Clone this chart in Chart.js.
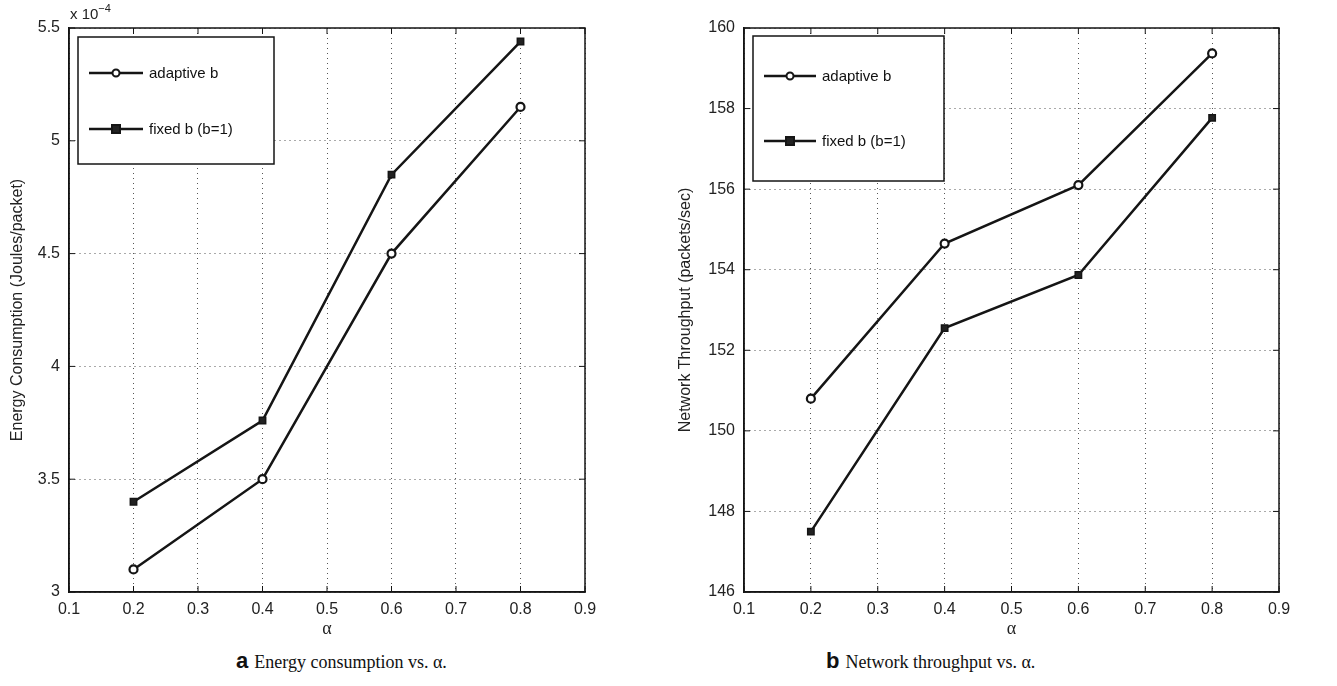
<!DOCTYPE html>
<html>
<head>
<meta charset="utf-8">
<script src="https://cdn.jsdelivr.net/npm/chart.js@4.4.0/dist/chart.umd.min.js"></script>
<style>
  body { margin: 0; background: #fff; width: 1337px; height: 686px; position: relative; overflow: hidden; }
  canvas { position: absolute; top: 0; }
  #c1 { left: 0; }
  #c2 { left: 668px; }
  .exp { position: absolute; left: 70px; top: 3px; font: 15px "Liberation Sans", Arial, sans-serif; color: #222; }
  .exp sup { font-size: 11px; position: relative; top: -1px; }
  .cap { position: absolute; top: 648px; font: 18px "Liberation Serif", "Times New Roman", serif; color: #111; white-space: nowrap; }
  .cap b { font: bold 22px "Liberation Sans", Arial, sans-serif; margin-right: 6px; }
</style>
</head>
<body>
<canvas id="c1" width="668" height="640"></canvas>
<canvas id="c2" width="669" height="640"></canvas>
<div class="exp">x 10<sup>−4</sup></div>
<div class="cap" style="left:236px"><b>a</b>Energy consumption vs. α.</div>
<div class="cap" style="left:826px"><b>b</b>Network throughput vs. α.</div>
<script>
// alpha values shared by both plots
var alphas = [0.2, 0.4, 0.6, 0.8];
var xTicks = [0.1, 0.2, 0.3, 0.4, 0.5, 0.6, 0.7, 0.8, 0.9];

// (a) energy consumption, in units of 1e-4 Joules/packet
var energyAdaptive = [3.10, 3.50, 4.50, 5.15];
var energyFixed = [3.40, 3.76, 4.85, 5.44];
var energyTicks = [3, 3.5, 4, 4.5, 5, 5.5];

// (b) network throughput, packets/sec
var thrAdaptive = [150.8, 154.65, 156.1, 159.37];
var thrFixed = [147.5, 152.55, 153.87, 157.77];
var thrTicks = [146, 148, 150, 152, 154, 156, 158, 160];

var seriesNames = ["adaptive b", "fixed b (b=1)"];

var tickFont = { family: "'Liberation Sans', Arial, sans-serif", size: 16 };
var ink = '#151515';

function pts(xs, ys) {
    return xs.map(function (x, i) { return { x: x, y: ys[i] }; });
}

function fmt(v) { return String(Number(v.toFixed(3))); }

// box, inward ticks and boxed legend, drawn the matlab way
var matlabFrame = {
    id: 'matlabFrame',
    afterDatasetsDraw: function (chart, args, opts) {
        var ctx = chart.ctx, a = chart.chartArea;
        var xs = chart.scales.x, ys = chart.scales.y;
        ctx.save();
        ctx.strokeStyle = ink;
        ctx.lineWidth = 1.5;
        ctx.strokeRect(a.left, a.top, a.right - a.left, a.bottom - a.top);
        ctx.lineWidth = 1;
        xs.ticks.forEach(function (t) {
            var px = xs.getPixelForValue(t.value);
            ctx.beginPath();
            ctx.moveTo(px, a.bottom); ctx.lineTo(px, a.bottom - 6);
            ctx.moveTo(px, a.top); ctx.lineTo(px, a.top + 6);
            ctx.stroke();
        });
        ys.ticks.forEach(function (t) {
            var py = ys.getPixelForValue(t.value);
            ctx.beginPath();
            ctx.moveTo(a.left, py); ctx.lineTo(a.left + 6, py);
            ctx.moveTo(a.right, py); ctx.lineTo(a.right - 6, py);
            ctx.stroke();
        });

        // legend
        var bx = a.left + opts.dx, by = a.top + opts.dy;
        ctx.fillStyle = '#fff';
        ctx.fillRect(bx, by, opts.w, opts.h);
        ctx.lineWidth = 1.5;
        ctx.strokeRect(bx, by, opts.w, opts.h);
        chart.data.datasets.forEach(function (ds, i) {
            var ry = by + opts.rows[i];
            ctx.strokeStyle = ink;
            ctx.lineWidth = 2.5;
            ctx.beginPath();
            ctx.moveTo(bx + 11, ry); ctx.lineTo(bx + opts.lineEnd, ry);
            ctx.stroke();
            var mx = bx + (11 + opts.lineEnd) / 2;
            ctx.lineWidth = 2;
            if (ds.pointStyle === 'circle') {
                ctx.fillStyle = '#fff';
                ctx.beginPath(); ctx.arc(mx, ry, 3.5, 0, Math.PI * 2); ctx.fill(); ctx.stroke();
            } else {
                ctx.fillStyle = '#222';
                ctx.fillRect(mx - 4, ry - 4, 8, 8);
                ctx.strokeRect(mx - 4, ry - 4, 8, 8);
            }
            ctx.fillStyle = '#111';
            ctx.font = "15px 'Liberation Sans', Arial, sans-serif";
            ctx.textBaseline = 'middle';
            ctx.fillText(ds.label, bx + opts.lineEnd + 6, ry + 1);
        });
        ctx.restore();
    }
};

function makeChart(id, a, b, yTicks, yTitle, yWidth, padRight, legendOpts) {
    return new Chart(document.getElementById(id), {
        type: 'line',
        data: {
            datasets: [{
                label: seriesNames[0],
                data: pts(alphas, a),
                borderColor: ink, borderWidth: 2.5,
                pointStyle: 'circle', pointRadius: 4,
                pointBackgroundColor: '#fff', pointBorderColor: ink, pointBorderWidth: 2.2,
                tension: 0
            }, {
                label: seriesNames[1],
                data: pts(alphas, b),
                borderColor: ink, borderWidth: 2.5,
                pointStyle: 'rect', pointRadius: 4.5,
                pointBackgroundColor: '#222', pointBorderColor: ink, pointBorderWidth: 1.5,
                tension: 0
            }]
        },
        options: {
            responsive: false,
            animation: false,
            events: [],
            layout: { padding: { top: 28, right: padRight, left: 0, bottom: 0 } },
            plugins: {
                legend: { display: false },
                tooltip: { enabled: false },
                matlabFrame: legendOpts
            },
            scales: {
                x: {
                    type: 'linear',
                    min: xTicks[0], max: xTicks[xTicks.length - 1],
                    afterBuildTicks: function (s) { s.ticks = xTicks.map(function (v) { return { value: v }; }); },
                    afterFit: function (s) { s.height = 48; },
                    ticks: { font: tickFont, color: '#222', padding: 8, maxRotation: 0, callback: fmt },
                    grid: { color: '#555', lineWidth: 1, drawTicks: false },
                    border: { dash: [1, 4], color: ink, width: 1.5 },
                    title: { display: true, text: 'α', font: { family: "'Liberation Serif', serif", size: 18 }, color: '#222', padding: { top: 0, bottom: 0 } }
                },
                y: {
                    min: yTicks[0], max: yTicks[yTicks.length - 1],
                    afterBuildTicks: function (s) { s.ticks = yTicks.map(function (v) { return { value: v }; }); },
                    afterFit: function (s) { s.width = yWidth; },
                    ticks: { font: tickFont, color: '#222', padding: 9, callback: fmt },
                    grid: { color: '#555', lineWidth: 1, drawTicks: false },
                    border: { dash: [1, 4], color: ink, width: 1.5 },
                    title: { display: true, text: yTitle, font: { family: "'Liberation Sans', Arial, sans-serif", size: 16 }, color: '#222', padding: { top: 8, bottom: 0 } }
                }
            }
        },
        plugins: [matlabFrame]
    });
}

makeChart('c1', energyAdaptive, energyFixed, energyTicks,
    'Energy Consumption (Joules/packet)', 69, 83,
    { dx: 9, dy: 9, w: 196, h: 127, rows: [36, 92], lineEnd: 65 });

makeChart('c2', thrAdaptive, thrFixed, thrTicks,
    'Network Throughput (packets/sec)', 76, 58,
    { dx: 9, dy: 8, w: 191, h: 145, rows: [40, 105], lineEnd: 63 });
</script>
</body>
</html>
